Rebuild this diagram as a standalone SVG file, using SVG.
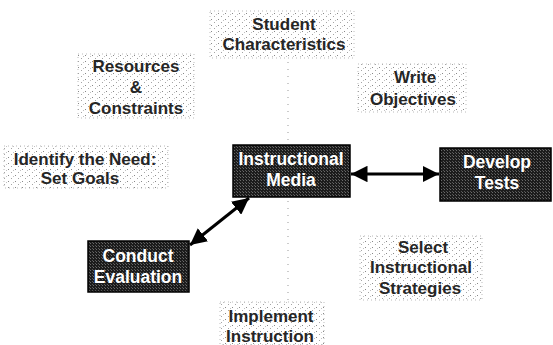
<svg xmlns="http://www.w3.org/2000/svg" width="553" height="345" viewBox="0 0 553 345">
  <defs>
    <!-- sparse grey speckle for the faded steps -->
    <pattern id="speckle" width="7" height="6" patternUnits="userSpaceOnUse">
      <rect x="1" y="1" width="1" height="1" fill="#888"/>
      <rect x="4" y="4" width="1" height="1" fill="#a5a5a5"/>
      <rect x="6" y="2" width="1" height="1" fill="#c0c0c0"/>
    </pattern>
    <!-- dense halftone inside the dark boxes -->
    <pattern id="halftone" width="3" height="3" patternUnits="userSpaceOnUse">
      <rect width="3" height="3" fill="#1c1c1c"/>
      <rect x="0" y="0" width="1" height="1" fill="#6a6a6a"/>
      <rect x="2" y="2" width="1" height="1" fill="#555"/>
    </pattern>
    <marker id="head" viewBox="0 0 10 10" refX="10" refY="5" markerWidth="5.5" markerHeight="5.5" orient="auto-start-reverse" markerUnits="strokeWidth">
      <path d="M0,0 L10,5 L0,10 z" fill="#000"/>
    </marker>
  </defs>
  <style>
    .faded rect { fill: url(#speckle); stroke: #bbb; stroke-width: 1; stroke-dasharray: 1 3; }
    .faded text { font-family: "Liberation Sans", Arial, sans-serif; font-weight: bold; font-size: 17px; fill: #262626; text-anchor: middle; }
    .active rect { fill: url(#halftone); stroke: #000; stroke-width: 1.5; }
    .active text { font-family: "Liberation Sans", Arial, sans-serif; font-weight: bold; font-size: 17.5px; fill: #fff; text-anchor: middle; }
    .link { stroke: #000; stroke-width: 3; fill: none; }
    .faint { stroke: #999; stroke-width: 1; stroke-dasharray: 1 6; fill: none; }
  </style>

  <rect width="553" height="345" fill="#fff"/>

  <g id="connectors">
    <path class="faint" d="M288,62 V140"/>
    <path class="faint" d="M288,201 V300"/>
    <path class="link" d="M351,174 H439" marker-start="url(#head)" marker-end="url(#head)"/>
    <path class="link" d="M190,245 L249,198" marker-start="url(#head)" marker-end="url(#head)"/>
  </g>

  <g id="student-characteristics" class="faded">
    <rect x="210" y="11" width="144" height="47"/>
    <text x="284" y="30">Student</text>
    <text x="284" y="50">Characteristics</text>
  </g>

  <g id="resources-constraints" class="faded">
    <rect x="78" y="54" width="116" height="64"/>
    <text x="136" y="72">Resources</text>
    <text x="136" y="93">&amp;</text>
    <text x="136" y="114">Constraints</text>
  </g>

  <g id="write-objectives" class="faded">
    <rect x="358" y="64" width="108" height="48"/>
    <text x="415" y="83">Write</text>
    <text x="413" y="105">Objectives</text>
  </g>

  <g id="identify-need" class="faded">
    <rect x="4" y="146" width="164" height="42"/>
    <text x="85" y="165">Identify the Need:</text>
    <text x="80" y="184">Set Goals</text>
  </g>

  <g id="instructional-media" class="active">
    <rect x="233" y="145" width="117" height="52"/>
    <text x="291" y="165">Instructional</text>
    <text x="291" y="186">Media</text>
  </g>

  <g id="develop-tests" class="active">
    <rect x="440" y="148" width="111" height="53"/>
    <text x="497" y="168">Develop</text>
    <text x="497" y="189">Tests</text>
  </g>

  <g id="conduct-evaluation" class="active">
    <rect x="88" y="241" width="101" height="51"/>
    <text x="138" y="262">Conduct</text>
    <text x="138" y="283">Evaluation</text>
  </g>

  <g id="select-strategies" class="faded">
    <rect x="360" y="236" width="122" height="64"/>
    <text x="423" y="253">Select</text>
    <text x="421" y="273">Instructional</text>
    <text x="420" y="294">Strategies</text>
  </g>

  <g id="implement-instruction" class="faded">
    <rect x="220" y="302" width="104" height="43"/>
    <text x="271" y="322">Implement</text>
    <text x="270" y="342">Instruction</text>
  </g>
</svg>
